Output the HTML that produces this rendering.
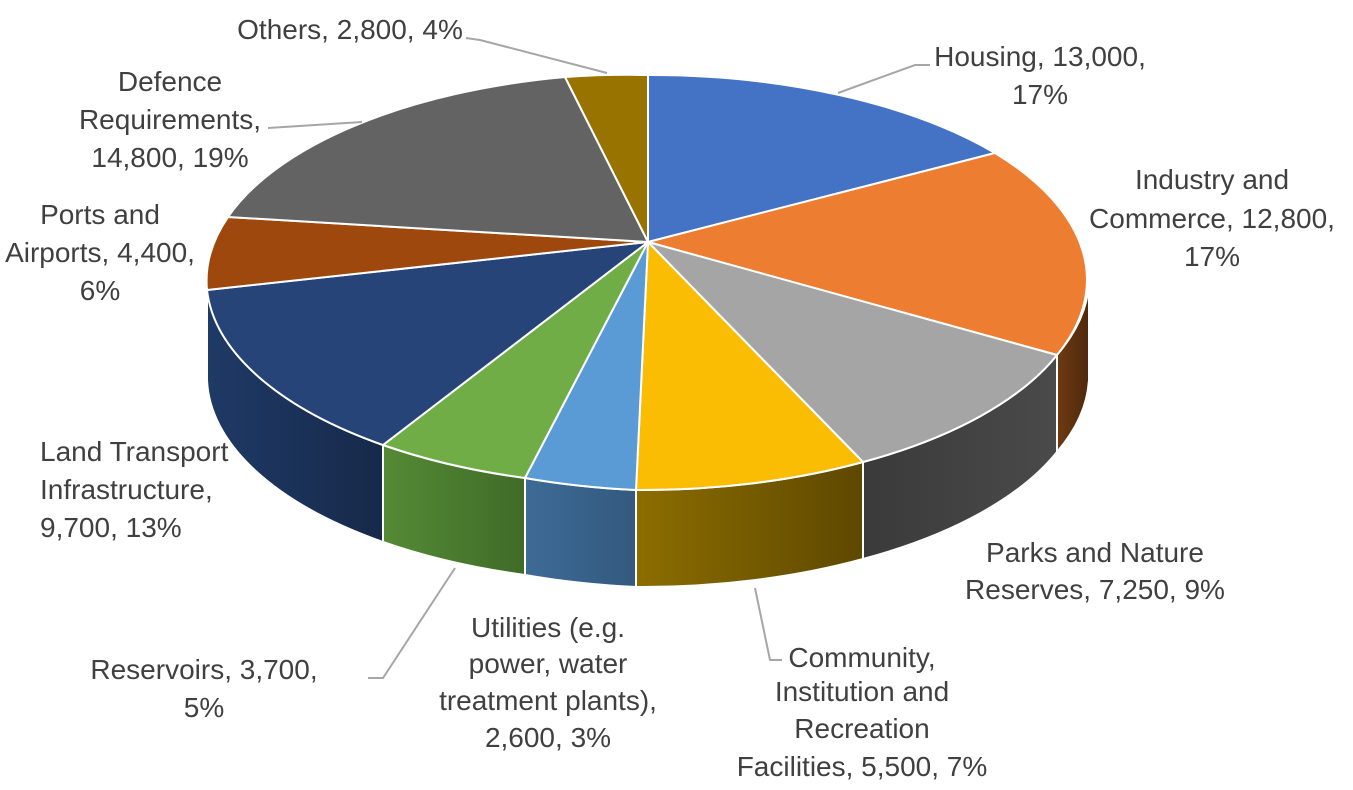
<!DOCTYPE html>
<html><head><meta charset="utf-8"><style>
html,body{margin:0;padding:0;background:#fff;}
svg{display:block;}
text{font-family:"Liberation Sans",sans-serif;font-size:28px;fill:#404040;}
</style></head><body>
<svg width="1353" height="790" viewBox="0 0 1353 790" xmlns="http://www.w3.org/2000/svg">
<defs>
<linearGradient id="gInd" x1="0" x2="1"><stop offset="0" stop-color="#6e3a12"/><stop offset="1" stop-color="#4e280c"/></linearGradient>
<linearGradient id="gPark" x1="0" x2="1"><stop offset="0" stop-color="#3a3a3a"/><stop offset="1" stop-color="#4a4a4a"/></linearGradient>
<linearGradient id="gCom" x1="0" x2="1"><stop offset="0" stop-color="#8c6d00"/><stop offset="1" stop-color="#5e4800"/></linearGradient>
<linearGradient id="gUt" x1="0" x2="1"><stop offset="0" stop-color="#3d6b96"/><stop offset="1" stop-color="#33597e"/></linearGradient>
<linearGradient id="gRes" x1="0" x2="1"><stop offset="0" stop-color="#558a35"/><stop offset="1" stop-color="#3f6b28"/></linearGradient>
<linearGradient id="gLand" x1="0" x2="1"><stop offset="0" stop-color="#1f3a66"/><stop offset="1" stop-color="#16294a"/></linearGradient>
</defs>
<g stroke="#fff" stroke-width="2" stroke-linejoin="round">
<path d="M1089 282.5 A441 207.5 0 0 1 1057 355 L1057 452 A441 207.5 0 0 0 1089 379.5 Z" fill="url(#gInd)"/>
<path d="M1057 355 A441 207.5 0 0 1 863 462 L863 559 A441 207.5 0 0 0 1057 452 Z" fill="url(#gPark)"/>
<path d="M863 462 A441 207.5 0 0 1 636 490 L636 587 A441 207.5 0 0 0 863 559 Z" fill="url(#gCom)"/>
<path d="M636 490 A441 207.5 0 0 1 525 478 L525 575 A441 207.5 0 0 0 636 587 Z" fill="url(#gUt)"/>
<path d="M525 478 A441 207.5 0 0 1 383 445 L383 542 A441 207.5 0 0 0 525 575 Z" fill="url(#gRes)"/>
<path d="M383 445 A441 207.5 0 0 1 207 282.5 L207 379.5 A441 207.5 0 0 0 383 542 Z" fill="url(#gLand)"/>
<path d="M648 242 L648 75 A441 207.5 0 0 1 995 153 Z" fill="#4472c4"/>
<path d="M648 242 L995 153 A441 207.5 0 0 1 1057 355 Z" fill="#ed7d31"/>
<path d="M648 242 L1057 355 A441 207.5 0 0 1 863 462 Z" fill="#a5a5a5"/>
<path d="M648 242 L863 462 A441 207.5 0 0 1 636 490 Z" fill="#fbbc04"/>
<path d="M648 242 L636 490 A441 207.5 0 0 1 525 478 Z" fill="#5b9bd5"/>
<path d="M648 242 L525 478 A441 207.5 0 0 1 383 445 Z" fill="#70ad47"/>
<path d="M648 242 L383 445 A441 207.5 0 0 1 207 290 Z" fill="#264478"/>
<path d="M648 242 L207 290 A441 207.5 0 0 1 228 217 Z" fill="#9e480e"/>
<path d="M648 242 L228 217 A441 207.5 0 0 1 565 77 Z" fill="#636363"/>
<path d="M648 242 L565 77 A441 207.5 0 0 1 648 75 Z" fill="#997300"/>
</g>
<g stroke="#a6a6a6" stroke-width="2" fill="none">
<polyline points="466,38 480,40 607,73"/>
<polyline points="838,93 915,65 930,65"/>
<polyline points="268,128 362,122"/>
<polyline points="755,588 770,660 782,660"/>
<polyline points="368,678 383,678 455,568"/>
</g>
<g text-anchor="middle">
<text x="350" y="39">Others, 2,800, 4%</text>
<text x="1040" y="66">Housing, 13,000,</text>
<text x="1040" y="104">17%</text>
<text x="1212" y="189">Industry and</text>
<text x="1212" y="228">Commerce, 12,800,</text>
<text x="1212" y="266">17%</text>
<text x="1095" y="562">Parks and Nature</text>
<text x="1095" y="599">Reserves, 7,250, 9%</text>
<text x="862" y="667">Community,</text>
<text x="862" y="701">Institution and</text>
<text x="862" y="738">Recreation</text>
<text x="862" y="776">Facilities, 5,500, 7%</text>
<text x="548" y="637">Utilities (e.g.</text>
<text x="548" y="673">power, water</text>
<text x="548" y="710">treatment plants),</text>
<text x="548" y="747">2,600, 3%</text>
<text x="204" y="679">Reservoirs, 3,700,</text>
<text x="204" y="717">5%</text>
<text x="100" y="224">Ports and</text>
<text x="100" y="262">Airports, 4,400,</text>
<text x="100" y="300">6%</text>
<text x="170" y="91">Defence</text>
<text x="170" y="129">Requirements,</text>
<text x="170" y="167">14,800, 19%</text>
</g>
<text x="40" y="461">Land Transport</text>
<text x="40" y="499">Infrastructure,</text>
<text x="40" y="537">9,700, 13%</text>
</svg>
</body></html>
